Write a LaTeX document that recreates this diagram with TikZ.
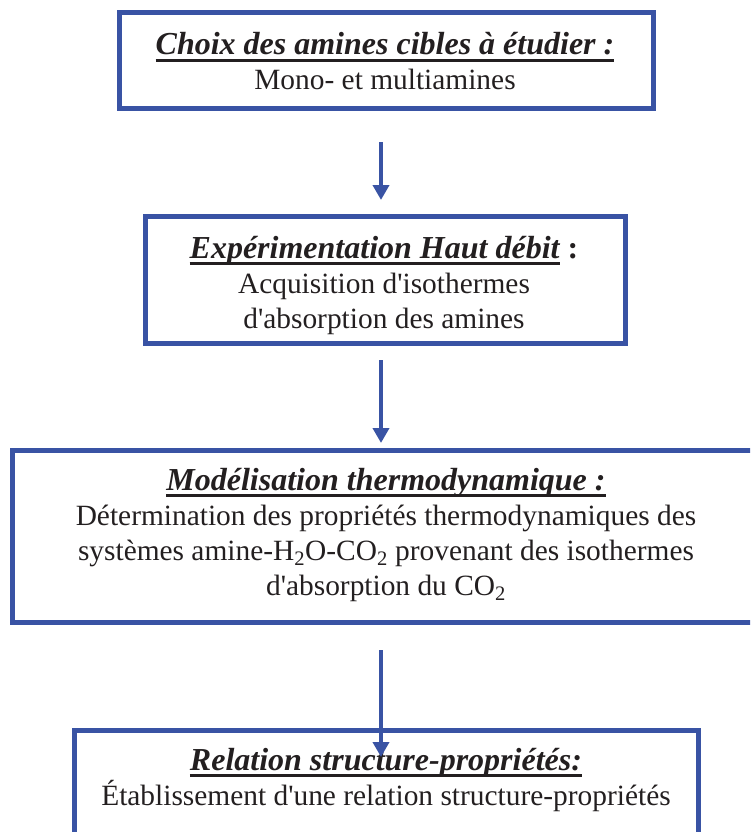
\documentclass[tikz,border=0pt]{standalone}
\usepackage{fontspec}
\setmainfont{Liberation Serif}
\usetikzlibrary{arrows.meta}
\definecolor{cadre-bleu}{HTML}{3953A4}
\definecolor{presque-noir}{HTML}{231F20}
\newsavebox{\titrebox}
\newcommand{\grand}{\fontsize{32}{35}\selectfont}
\newcommand{\titre}[1]{%
    \sbox{\titrebox}{\grand\textbf{\textit{#1}}}%
    \rlap{\rule[-6.8pt]{\wd\titrebox}{3.2pt}}\usebox{\titrebox}}
\newcommand{\apos}{\textquotesingle}

\begin{document}
\begin{tikzpicture}[
    x=1pt, y=-1pt,
    cadre/.style 2 args={
        draw=cadre-bleu, line width=5pt,
        minimum width=#1, minimum height=#2,
        inner sep=0pt, outer sep=0pt,
    },
    texte/.style={
        text width=720pt, align=flush center, anchor=base, inner sep=0pt,
        text=presque-noir, font=\fontsize{29.4}{35}\selectfont,
    },
    fleche/.style={
        draw=cadre-bleu, line width=4pt,
        -{Triangle[width=16pt,length=15pt]},
    },
]
\useasboundingbox (0,0) rectangle (750,832);
\clip (0,0) rectangle (750,832);

\node[cadre={534pt}{96pt}] (choix) at (386,60.5) {};
\node[texte] (choix-t) at (385,55)
    {\titre{Choix des amines cibles à étudier :}\\
     Mono- et multiamines};

\node[cadre={480pt}{127pt}] (hd) at (385,279.5) {};
\node[texte] (hd-t) at (384,258)
    {\titre{Expérimentation Haut débit} {\grand\textbf{:}}\\
     Acquisition d\apos isothermes\\
     d\apos absorption des amines};

\node[cadre={746pt}{172pt}] (modele) at (385,536) {};
\node[texte] (modele-t) at (386,490)
    {\titre{Modélisation thermodynamique :}\\
     Détermination des propriétés thermodynamiques des\\
     systèmes amine-H\textsubscript{2}O-CO\textsubscript{2} provenant des isothermes\\
     d\apos absorption du CO\textsubscript{2}};

\node[cadre={624pt}{170pt}] (relation) at (386,815) {};
\node[texte] (relation-t) at (386,770)
    {\titre{Relation structure-propriétés:}\\
     Établissement d\apos une relation structure-propriétés};

\draw[fleche, shorten <=33.5pt, shorten >=16pt]
    ([xshift=-5pt]choix.south) -- ([xshift=-4pt]hd.north);
\draw[fleche, shorten <=17pt, shorten >=7pt]
    ([xshift=-4pt]hd.south) -- ([xshift=-4pt]modele.north);
\draw[fleche, shorten <=28pt, shorten >=-27pt]
    ([xshift=-4pt]modele.south) -- ([xshift=-5pt]relation.north);
\end{tikzpicture}
\end{document}
